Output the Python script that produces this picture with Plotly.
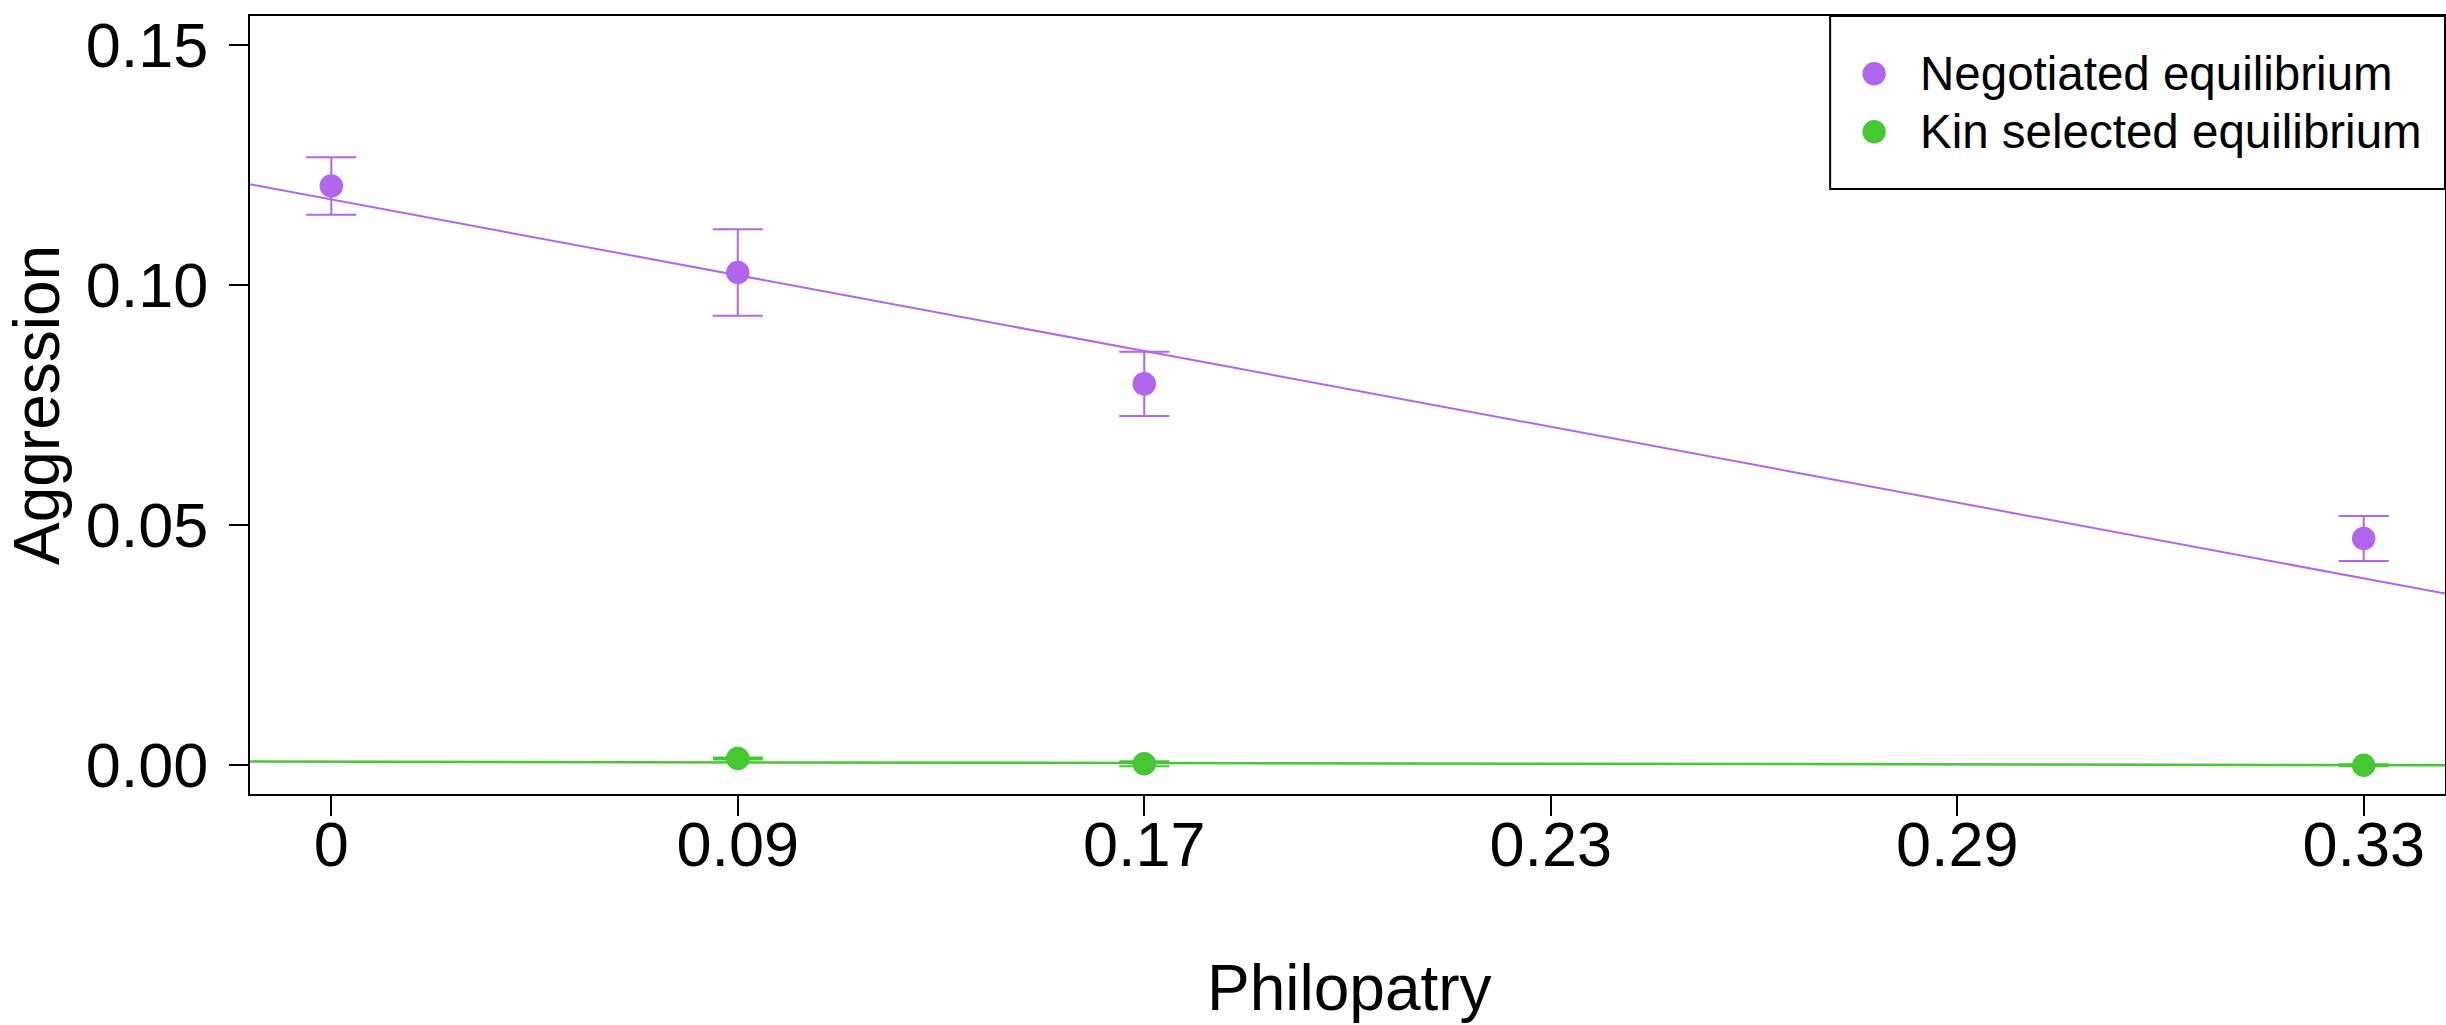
import plotly.graph_objects as go

# ---- data ----
tick_positions = [0, 1, 2, 3, 4, 5]
tick_labels = ["0", "0.09", "0.17", "0.23", "0.29", "0.33"]
y_tick_vals = [0, 0.05, 0.10, 0.15]
y_tick_labels = ["0.00", "0.05", "0.10", "0.15"]

neg_x = [0, 1, 2, 5]
neg_y = [0.1206, 0.1026, 0.0794, 0.0472]
neg_err = [0.0060, 0.0090, 0.0067, 0.0047]

kin_x = [1, 2, 5]
kin_y = [0.0014, 0.0003, 0.0000]
kin_err = [0.0002, 0.0005, 0.0002]

neg_fit = (0.1178, -0.01578)   # intercept, slope
kin_fit = (0.00072, -0.000139)

series_names = ["Negotiated equilibrium", "Kin selected equilibrium"]

x_range = [-0.2, 5.2]
y_range = [-0.006, 0.156]

purple = "#B266EE"
green = "#45C832"
font_family = "Liberation Sans, Arial, sans-serif"

fig = go.Figure()

# regression lines
for (b, m), col, w in [(neg_fit, purple, 2), (kin_fit, green, 2.5)]:
    xs = list(x_range)
    ys = [b + m * xv for xv in xs]
    fig.add_trace(go.Scatter(x=xs, y=ys, mode="lines", line=dict(color=col, width=w),
                             showlegend=False, hoverinfo="skip"))

fig.add_trace(go.Scatter(
    x=neg_x, y=neg_y, mode="markers", name=series_names[0], showlegend=False,
    marker=dict(color=purple, size=23.5),
    error_y=dict(type="data", array=neg_err, color=purple, thickness=2, width=25),
))
fig.add_trace(go.Scatter(
    x=kin_x, y=kin_y, mode="markers", name=series_names[1], showlegend=False,
    marker=dict(color=green, size=23.5),
    error_y=dict(type="data", array=kin_err, color=green, thickness=2, width=25),
))

W, H = 2446, 1025
ml, mr, mt, mb = 249.5, 1, 16, 231
pw = W - ml - mr
ph = H - mt - mb

def px_x(p):
    return (p - ml) / pw

def px_y(p):
    return (H - mb - p) / ph

# legend box
fig.add_shape(type="rect", xref="paper", yref="paper",
              x0=px_x(1830), x1=1, y0=px_y(189), y1=1,
              line=dict(color="black", width=2), fillcolor="rgba(0,0,0,0)")

# legend entries
for name, col, row_y in zip(series_names, [purple, green], [73.7, 131.7]):
    fig.add_shape(type="circle", xref="paper", yref="paper",
                  xsizemode="pixel", ysizemode="pixel",
                  xanchor=px_x(1874), yanchor=px_y(row_y),
                  x0=-11.7, x1=11.7, y0=-11.7, y1=11.7,
                  fillcolor=col, line=dict(width=0))
    fig.add_annotation(text=name, xref="paper", yref="paper",
                       x=px_x(1918), y=px_y(row_y), showarrow=False,
                       xanchor="left", yanchor="middle",
                       font=dict(size=47.5, color="black", family=font_family))

fig.add_annotation(text="Aggression", xref="paper", yref="paper",
                   x=px_x(36), y=px_y(405.5), textangle=-90, showarrow=False,
                   xanchor="center", yanchor="middle",
                   font=dict(size=64, color="black", family=font_family))
fig.add_annotation(text="Philopatry", xref="paper", yref="paper",
                   x=px_x(1349), y=px_y(987.5), showarrow=False,
                   xanchor="center", yanchor="middle",
                   font=dict(size=64, color="black", family=font_family))

fig.update_layout(
    width=W, height=H,
    margin=dict(l=ml, r=mr, t=mt, b=mb, autoexpand=False),
    paper_bgcolor="white", plot_bgcolor="white",
    font=dict(family=font_family, color="black"),
    showlegend=False,
    xaxis=dict(range=x_range, tickmode="array", tickvals=tick_positions, ticktext=tick_labels,
               showgrid=False, zeroline=False, showline=True, mirror=True,
               linecolor="black", linewidth=2, ticks="outside", ticklen=20,
               tickwidth=1.5, tickcolor="black", ticklabelstandoff=-26,
               tickfont=dict(size=63, family=font_family, color="black")),
    yaxis=dict(range=y_range, tickmode="array", tickvals=y_tick_vals,
               ticktext=y_tick_labels,
               showgrid=False, zeroline=False, showline=True, mirror=True,
               linecolor="black", linewidth=2, ticks="outside", ticklen=19,
               tickwidth=1.5, tickcolor="black", ticklabelstandoff=8,
               tickfont=dict(size=63, family=font_family, color="black")),
)

fig.write_html("out.html", post_script="document.body.style.margin='0px';",
               config={"displayModeBar": False})
